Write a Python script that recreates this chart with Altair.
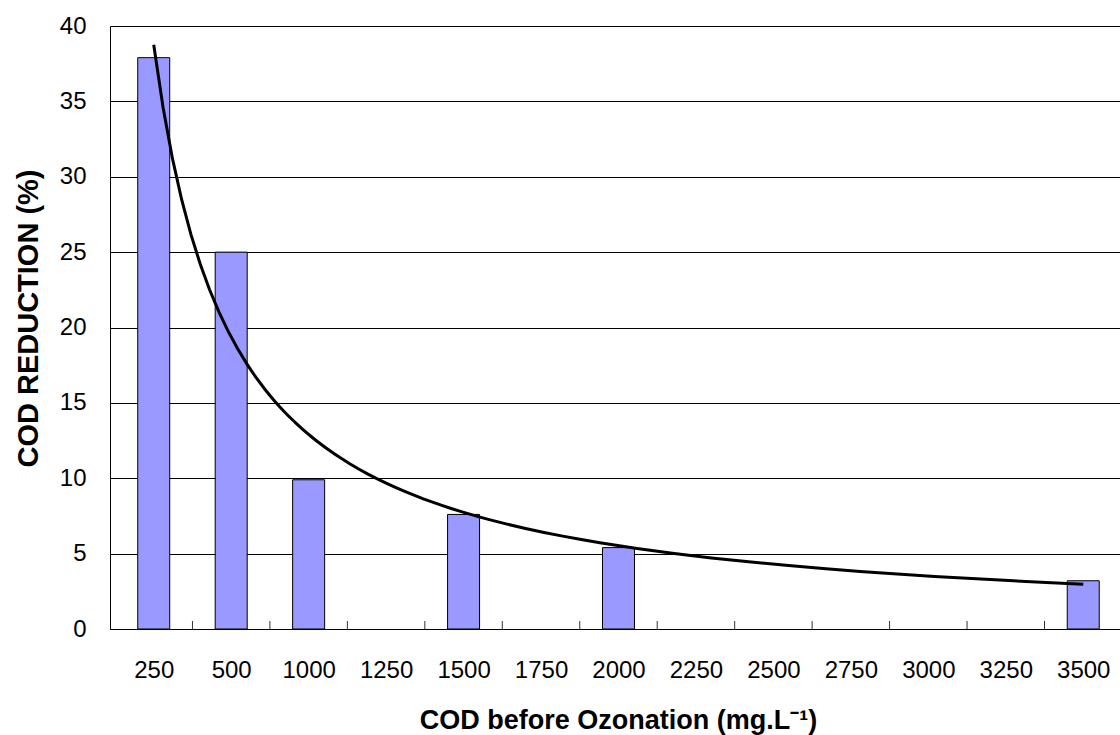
import altair as alt
import pandas as pd

# ---- data ----
categories = ["250", "500", "1000", "1250", "1500", "1750", "2000",
              "2250", "2500", "2750", "3000", "3250", "3500"]
bar_categories = ["250", "500", "1000", "1500", "2000", "3500"]
bar_values = [37.9, 25.0, 9.9, 7.6, 5.4, 3.2]
y_ticks = [0, 5, 10, 15, 20, 25, 30, 35, 40]

bars_df = pd.DataFrame({
    "cat": bar_categories,
    "idx": [categories.index(c) + 1 for c in bar_categories],
    "val": bar_values,
})
bound_df = pd.DataFrame({"idx": [i + 1 for i in range(len(categories) - 1)]})

FONT = "Liberation Sans"
W, H = 1010, 603

label_expr = "[" + ",".join(f"'{c}'" for c in categories) + "][datum.value - 1]"

x_scale = alt.Scale(domain=[0.5, 13.41], nice=False, zero=False)
y_scale = alt.Scale(domain=[0, 40], nice=False)

x_axis = alt.Axis(
    values=list(range(1, len(categories) + 1)),
    labelExpr=label_expr,
    ticks=False, tickSize=0, grid=False,
    domainColor="#000000", domainWidth=1,
    labelFont=FONT, labelFontSize=24, labelColor="#000000",
    labelBaseline="alphabetic", labelPadding=48,
    title="COD before Ozonation (mg.L⁻¹)",
    titleFont=FONT, titleFontSize=27, titleFontWeight="bold", titleColor="#000000",
    titleBaseline="alphabetic", titleX=508, titleY=99, titleAnchor="start",
    titleAlign="center",
    labelFlush=False, labelOverlap=False,
)

y_axis = alt.Axis(
    values=y_ticks,
    ticks=False, tickSize=0,
    grid=True, gridColor="#000000", gridWidth=1,
    domainColor="#000000", domainWidth=1,
    labelFont=FONT, labelFontSize=24, labelColor="#000000",
    labelPadding=24, labelBaseline="middle",
    title="COD REDUCTION (%)",
    titleFont=FONT, titleFontSize=29, titleFontWeight="bold", titleColor="#000000",
    titleAngle=-90, titleBaseline="alphabetic", titleAlign="center",
    titleX=-73, titleY=292,
    labelFlush=False, labelOverlap=False,
)

base = alt.Chart(bars_df)

bars = base.mark_bar(size=32, color="#9999FF", stroke="#000000", strokeWidth=1).encode(
    x=alt.X("idx:Q", scale=x_scale, axis=x_axis),
    y=alt.Y("val:Q", scale=y_scale, axis=y_axis),
)

trend = base.transform_regression(
    "idx", "val", method="pow", extent=[1, 13]
).mark_line(color="#000000", strokeWidth=3).encode(
    x=alt.X("idx:Q", scale=x_scale),
    y=alt.Y("val:Q", scale=y_scale),
)

ticks = alt.Chart(bound_df).transform_calculate(
    b="datum.idx + 0.5"
).mark_rule(color="#333333", strokeWidth=1).encode(
    x=alt.X("b:Q", scale=x_scale),
    y=alt.value(H - 8),
    y2=alt.value(H),
)

chart = alt.layer(bars, ticks, trend).properties(
    width=W, height=H,
    autosize=alt.AutoSizeParams(type="none"),
    padding={"left": 110, "top": 26, "right": 0, "bottom": 106},
    background="#ffffff",
).configure_view(strokeWidth=0)

chart.save("out.html", embed_options={"renderer": "svg", "actions": False})
